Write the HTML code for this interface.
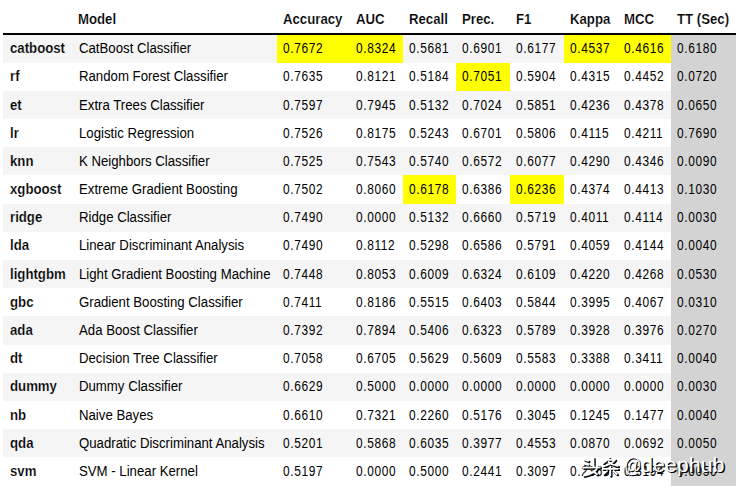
<!DOCTYPE html>
<html><head><meta charset="utf-8"><style>
html,body{margin:0;padding:0;background:#fff;width:741px;height:491px;overflow:hidden;position:relative;}
div{position:absolute;}
.r{left:3px;width:733px;background:#f5f5f5;}
.y{background:#ffff00;}
.g{background:#d3d3d3;}
.t{font-family:"Liberation Sans",sans-serif;font-size:14.0px;line-height:16px;height:16px;white-space:nowrap;color:#000;transform:scaleX(0.9429);transform-origin:0 0;}
.b{font-weight:bold;}
.n{transform:scaleX(0.85);letter-spacing:0.73px;}
.bd{left:3px;width:733px;top:33px;height:2px;background:#000;}
</style></head><body>
<div class="r" style="top:35px;height:28px"></div>
<div class="r" style="top:91px;height:28px"></div>
<div class="r" style="top:147px;height:28px"></div>
<div class="r" style="top:204px;height:28px"></div>
<div class="r" style="top:260px;height:28px"></div>
<div class="r" style="top:316px;height:29px"></div>
<div class="r" style="top:373px;height:28px"></div>
<div class="r" style="top:429px;height:28px"></div>
<div class="g" style="left:671px;width:65px;top:35.00px;height:451.00px"></div>
<div class="y" style="left:277px;width:73px;top:35px;height:28px"></div>
<div class="y" style="left:350px;width:53px;top:35px;height:28px"></div>
<div class="y" style="left:564px;width:53.5px;top:35px;height:28px"></div>
<div class="y" style="left:617.5px;width:53.5px;top:35px;height:28px"></div>
<div class="y" style="left:456px;width:54px;top:63px;height:28px"></div>
<div class="y" style="left:403px;width:53px;top:175px;height:29px"></div>
<div class="y" style="left:510px;width:54px;top:175px;height:29px"></div>
<div class="bd"></div>
<div class="t b" style="left:78.00px;top:11.00px;-webkit-text-stroke:0.18px #fff">Model</div>
<div class="t b" style="left:283.00px;top:11.00px;-webkit-text-stroke:0.18px #fff">Accuracy</div>
<div class="t b" style="left:356.00px;top:11.00px;-webkit-text-stroke:0.18px #fff">AUC</div>
<div class="t b" style="left:409.00px;top:11.00px;-webkit-text-stroke:0.18px #fff">Recall</div>
<div class="t b" style="left:462.00px;top:11.00px;-webkit-text-stroke:0.18px #fff">Prec.</div>
<div class="t b" style="left:516.00px;top:11.00px;-webkit-text-stroke:0.18px #fff">F1</div>
<div class="t b" style="left:570.00px;top:11.00px;-webkit-text-stroke:0.18px #fff">Kappa</div>
<div class="t b" style="left:623.50px;top:11.00px;-webkit-text-stroke:0.18px #fff">MCC</div>
<div class="t b" style="left:677.00px;top:11.00px;-webkit-text-stroke:0.18px #fff">TT (Sec)</div>
<div class="t b" style="left:9.60px;top:40.00px;-webkit-text-stroke:0.18px #f5f5f5">catboost</div>
<div class="t" style="left:78.60px;top:40.00px">CatBoost Classifier</div>
<div class="t n" style="left:283.20px;top:40.00px">0.7672</div>
<div class="t n" style="left:356.20px;top:40.00px">0.8324</div>
<div class="t n" style="left:409.20px;top:40.00px">0.5681</div>
<div class="t n" style="left:462.20px;top:40.00px">0.6901</div>
<div class="t n" style="left:516.20px;top:40.00px">0.6177</div>
<div class="t n" style="left:570.20px;top:40.00px">0.4537</div>
<div class="t n" style="left:623.70px;top:40.00px">0.4616</div>
<div class="t n" style="left:677.20px;top:40.00px">0.6180</div>
<div class="t b" style="left:9.60px;top:68.00px;-webkit-text-stroke:0.18px #fff">rf</div>
<div class="t" style="left:78.60px;top:68.00px">Random Forest Classifier</div>
<div class="t n" style="left:283.20px;top:68.00px">0.7635</div>
<div class="t n" style="left:356.20px;top:68.00px">0.8121</div>
<div class="t n" style="left:409.20px;top:68.00px">0.5184</div>
<div class="t n" style="left:462.20px;top:68.00px">0.7051</div>
<div class="t n" style="left:516.20px;top:68.00px">0.5904</div>
<div class="t n" style="left:570.20px;top:68.00px">0.4315</div>
<div class="t n" style="left:623.70px;top:68.00px">0.4452</div>
<div class="t n" style="left:677.20px;top:68.00px">0.0720</div>
<div class="t b" style="left:9.60px;top:97.00px;-webkit-text-stroke:0.18px #f5f5f5">et</div>
<div class="t" style="left:78.60px;top:97.00px">Extra Trees Classifier</div>
<div class="t n" style="left:283.20px;top:97.00px">0.7597</div>
<div class="t n" style="left:356.20px;top:97.00px">0.7945</div>
<div class="t n" style="left:409.20px;top:97.00px">0.5132</div>
<div class="t n" style="left:462.20px;top:97.00px">0.7024</div>
<div class="t n" style="left:516.20px;top:97.00px">0.5851</div>
<div class="t n" style="left:570.20px;top:97.00px">0.4236</div>
<div class="t n" style="left:623.70px;top:97.00px">0.4378</div>
<div class="t n" style="left:677.20px;top:97.00px">0.0650</div>
<div class="t b" style="left:9.60px;top:125.00px;-webkit-text-stroke:0.18px #fff">lr</div>
<div class="t" style="left:78.60px;top:125.00px">Logistic Regression</div>
<div class="t n" style="left:283.20px;top:125.00px">0.7526</div>
<div class="t n" style="left:356.20px;top:125.00px">0.8175</div>
<div class="t n" style="left:409.20px;top:125.00px">0.5243</div>
<div class="t n" style="left:462.20px;top:125.00px">0.6701</div>
<div class="t n" style="left:516.20px;top:125.00px">0.5806</div>
<div class="t n" style="left:570.20px;top:125.00px">0.4115</div>
<div class="t n" style="left:623.70px;top:125.00px">0.4211</div>
<div class="t n" style="left:677.20px;top:125.00px">0.7690</div>
<div class="t b" style="left:9.60px;top:153.00px;-webkit-text-stroke:0.18px #f5f5f5">knn</div>
<div class="t" style="left:78.60px;top:153.00px">K Neighbors Classifier</div>
<div class="t n" style="left:283.20px;top:153.00px">0.7525</div>
<div class="t n" style="left:356.20px;top:153.00px">0.7543</div>
<div class="t n" style="left:409.20px;top:153.00px">0.5740</div>
<div class="t n" style="left:462.20px;top:153.00px">0.6572</div>
<div class="t n" style="left:516.20px;top:153.00px">0.6077</div>
<div class="t n" style="left:570.20px;top:153.00px">0.4290</div>
<div class="t n" style="left:623.70px;top:153.00px">0.4346</div>
<div class="t n" style="left:677.20px;top:153.00px">0.0090</div>
<div class="t b" style="left:9.60px;top:181.00px;-webkit-text-stroke:0.18px #fff">xgboost</div>
<div class="t" style="left:78.60px;top:181.00px">Extreme Gradient Boosting</div>
<div class="t n" style="left:283.20px;top:181.00px">0.7502</div>
<div class="t n" style="left:356.20px;top:181.00px">0.8060</div>
<div class="t n" style="left:409.20px;top:181.00px">0.6178</div>
<div class="t n" style="left:462.20px;top:181.00px">0.6386</div>
<div class="t n" style="left:516.20px;top:181.00px">0.6236</div>
<div class="t n" style="left:570.20px;top:181.00px">0.4374</div>
<div class="t n" style="left:623.70px;top:181.00px">0.4413</div>
<div class="t n" style="left:677.20px;top:181.00px">0.1030</div>
<div class="t b" style="left:9.60px;top:209.00px;-webkit-text-stroke:0.18px #f5f5f5">ridge</div>
<div class="t" style="left:78.60px;top:209.00px">Ridge Classifier</div>
<div class="t n" style="left:283.20px;top:209.00px">0.7490</div>
<div class="t n" style="left:356.20px;top:209.00px">0.0000</div>
<div class="t n" style="left:409.20px;top:209.00px">0.5132</div>
<div class="t n" style="left:462.20px;top:209.00px">0.6660</div>
<div class="t n" style="left:516.20px;top:209.00px">0.5719</div>
<div class="t n" style="left:570.20px;top:209.00px">0.4011</div>
<div class="t n" style="left:623.70px;top:209.00px">0.4114</div>
<div class="t n" style="left:677.20px;top:209.00px">0.0030</div>
<div class="t b" style="left:9.60px;top:237.00px;-webkit-text-stroke:0.18px #fff">lda</div>
<div class="t" style="left:78.60px;top:237.00px">Linear Discriminant Analysis</div>
<div class="t n" style="left:283.20px;top:237.00px">0.7490</div>
<div class="t n" style="left:356.20px;top:237.00px">0.8112</div>
<div class="t n" style="left:409.20px;top:237.00px">0.5298</div>
<div class="t n" style="left:462.20px;top:237.00px">0.6586</div>
<div class="t n" style="left:516.20px;top:237.00px">0.5791</div>
<div class="t n" style="left:570.20px;top:237.00px">0.4059</div>
<div class="t n" style="left:623.70px;top:237.00px">0.4144</div>
<div class="t n" style="left:677.20px;top:237.00px">0.0040</div>
<div class="t b" style="left:9.60px;top:266.00px;-webkit-text-stroke:0.18px #f5f5f5">lightgbm</div>
<div class="t" style="left:78.60px;top:266.00px">Light Gradient Boosting Machine</div>
<div class="t n" style="left:283.20px;top:266.00px">0.7448</div>
<div class="t n" style="left:356.20px;top:266.00px">0.8053</div>
<div class="t n" style="left:409.20px;top:266.00px">0.6009</div>
<div class="t n" style="left:462.20px;top:266.00px">0.6324</div>
<div class="t n" style="left:516.20px;top:266.00px">0.6109</div>
<div class="t n" style="left:570.20px;top:266.00px">0.4220</div>
<div class="t n" style="left:623.70px;top:266.00px">0.4268</div>
<div class="t n" style="left:677.20px;top:266.00px">0.0530</div>
<div class="t b" style="left:9.60px;top:294.00px;-webkit-text-stroke:0.18px #fff">gbc</div>
<div class="t" style="left:78.60px;top:294.00px">Gradient Boosting Classifier</div>
<div class="t n" style="left:283.20px;top:294.00px">0.7411</div>
<div class="t n" style="left:356.20px;top:294.00px">0.8186</div>
<div class="t n" style="left:409.20px;top:294.00px">0.5515</div>
<div class="t n" style="left:462.20px;top:294.00px">0.6403</div>
<div class="t n" style="left:516.20px;top:294.00px">0.5844</div>
<div class="t n" style="left:570.20px;top:294.00px">0.3995</div>
<div class="t n" style="left:623.70px;top:294.00px">0.4067</div>
<div class="t n" style="left:677.20px;top:294.00px">0.0310</div>
<div class="t b" style="left:9.60px;top:322.00px;-webkit-text-stroke:0.18px #f5f5f5">ada</div>
<div class="t" style="left:78.60px;top:322.00px">Ada Boost Classifier</div>
<div class="t n" style="left:283.20px;top:322.00px">0.7392</div>
<div class="t n" style="left:356.20px;top:322.00px">0.7894</div>
<div class="t n" style="left:409.20px;top:322.00px">0.5406</div>
<div class="t n" style="left:462.20px;top:322.00px">0.6323</div>
<div class="t n" style="left:516.20px;top:322.00px">0.5789</div>
<div class="t n" style="left:570.20px;top:322.00px">0.3928</div>
<div class="t n" style="left:623.70px;top:322.00px">0.3976</div>
<div class="t n" style="left:677.20px;top:322.00px">0.0270</div>
<div class="t b" style="left:9.60px;top:350.00px;-webkit-text-stroke:0.18px #fff">dt</div>
<div class="t" style="left:78.60px;top:350.00px">Decision Tree Classifier</div>
<div class="t n" style="left:283.20px;top:350.00px">0.7058</div>
<div class="t n" style="left:356.20px;top:350.00px">0.6705</div>
<div class="t n" style="left:409.20px;top:350.00px">0.5629</div>
<div class="t n" style="left:462.20px;top:350.00px">0.5609</div>
<div class="t n" style="left:516.20px;top:350.00px">0.5583</div>
<div class="t n" style="left:570.20px;top:350.00px">0.3388</div>
<div class="t n" style="left:623.70px;top:350.00px">0.3411</div>
<div class="t n" style="left:677.20px;top:350.00px">0.0040</div>
<div class="t b" style="left:9.60px;top:378.00px;-webkit-text-stroke:0.18px #f5f5f5">dummy</div>
<div class="t" style="left:78.60px;top:378.00px">Dummy Classifier</div>
<div class="t n" style="left:283.20px;top:378.00px">0.6629</div>
<div class="t n" style="left:356.20px;top:378.00px">0.5000</div>
<div class="t n" style="left:409.20px;top:378.00px">0.0000</div>
<div class="t n" style="left:462.20px;top:378.00px">0.0000</div>
<div class="t n" style="left:516.20px;top:378.00px">0.0000</div>
<div class="t n" style="left:570.20px;top:378.00px">0.0000</div>
<div class="t n" style="left:623.70px;top:378.00px">0.0000</div>
<div class="t n" style="left:677.20px;top:378.00px">0.0030</div>
<div class="t b" style="left:9.60px;top:407.00px;-webkit-text-stroke:0.18px #fff">nb</div>
<div class="t" style="left:78.60px;top:407.00px">Naive Bayes</div>
<div class="t n" style="left:283.20px;top:407.00px">0.6610</div>
<div class="t n" style="left:356.20px;top:407.00px">0.7321</div>
<div class="t n" style="left:409.20px;top:407.00px">0.2260</div>
<div class="t n" style="left:462.20px;top:407.00px">0.5176</div>
<div class="t n" style="left:516.20px;top:407.00px">0.3045</div>
<div class="t n" style="left:570.20px;top:407.00px">0.1245</div>
<div class="t n" style="left:623.70px;top:407.00px">0.1477</div>
<div class="t n" style="left:677.20px;top:407.00px">0.0040</div>
<div class="t b" style="left:9.60px;top:435.00px;-webkit-text-stroke:0.18px #f5f5f5">qda</div>
<div class="t" style="left:78.60px;top:435.00px">Quadratic Discriminant Analysis</div>
<div class="t n" style="left:283.20px;top:435.00px">0.5201</div>
<div class="t n" style="left:356.20px;top:435.00px">0.5868</div>
<div class="t n" style="left:409.20px;top:435.00px">0.6035</div>
<div class="t n" style="left:462.20px;top:435.00px">0.3977</div>
<div class="t n" style="left:516.20px;top:435.00px">0.4553</div>
<div class="t n" style="left:570.20px;top:435.00px">0.0870</div>
<div class="t n" style="left:623.70px;top:435.00px">0.0692</div>
<div class="t n" style="left:677.20px;top:435.00px">0.0050</div>
<div class="t b" style="left:9.60px;top:463.00px;-webkit-text-stroke:0.18px #fff">svm</div>
<div class="t" style="left:78.60px;top:463.00px">SVM - Linear Kernel</div>
<div class="t n" style="left:283.20px;top:463.00px">0.5197</div>
<div class="t n" style="left:356.20px;top:463.00px">0.0000</div>
<div class="t n" style="left:409.20px;top:463.00px">0.5000</div>
<div class="t n" style="left:462.20px;top:463.00px">0.2441</div>
<div class="t n" style="left:516.20px;top:463.00px">0.3097</div>
<div class="t n" style="left:570.20px;top:463.00px">0.2365</div>
<div class="t n" style="left:623.70px;top:463.00px">0.3194</div>
<div class="t n" style="left:677.20px;top:463.00px">0.0050</div>
<div style="left:582px;top:457px;width:150px;height:24px;">
<svg style="position:absolute;left:0;top:0;overflow:visible" width="40" height="22" viewBox="0 0 40 22" fill="none" stroke-linecap="round" stroke-linejoin="round">
<defs><g id="cj"><path d="M2.3,2.6 L6.2,3.9 M2,6.6 L6.2,7.9 M11.5,1.2 L11.5,9.2 M1.3,10.6 L17.8,10.3 M15.5,10.6 Q13,16.5 1.8,18.6 M11,14.2 L15,17.2"/>
<path transform="translate(20,0)" d="M7,0.8 Q5,3.8 1.3,6 M4.6,2.8 L13,2.8 Q10,7.2 1.5,9.3 M6.5,5 Q10,8.2 15.8,9 M0.8,11.8 L15.8,11.8 M8.3,9.5 L8.3,18.4 M5,14 L1.8,17 M11.5,14 L14.8,17"/></g></defs>
<use href="#cj" stroke="#000" stroke-width="2.4" transform="translate(1.1,1.1)" opacity="0.95"/>
<use href="#cj" stroke="#fff" stroke-width="1.7"/>
</svg>
<div style="left:41.5px;top:-3px;font-family:'Liberation Sans',sans-serif;font-size:20px;line-height:22px;color:#fff;white-space:nowrap;transform:scaleX(0.86);transform-origin:0 0;text-shadow:1px 1px 0 #000,1.3px 1.3px 0.5px rgba(0,0,0,0.6);">@</div>
<div style="left:58.5px;top:-3px;font-family:'Liberation Sans',sans-serif;font-size:19.5px;line-height:22px;color:#fff;white-space:nowrap;transform:scaleX(1.1);transform-origin:0 0;text-shadow:1px 1px 0 #000,1.3px 1.3px 0.5px rgba(0,0,0,0.6);">deephub</div>
</div>
</body></html>
